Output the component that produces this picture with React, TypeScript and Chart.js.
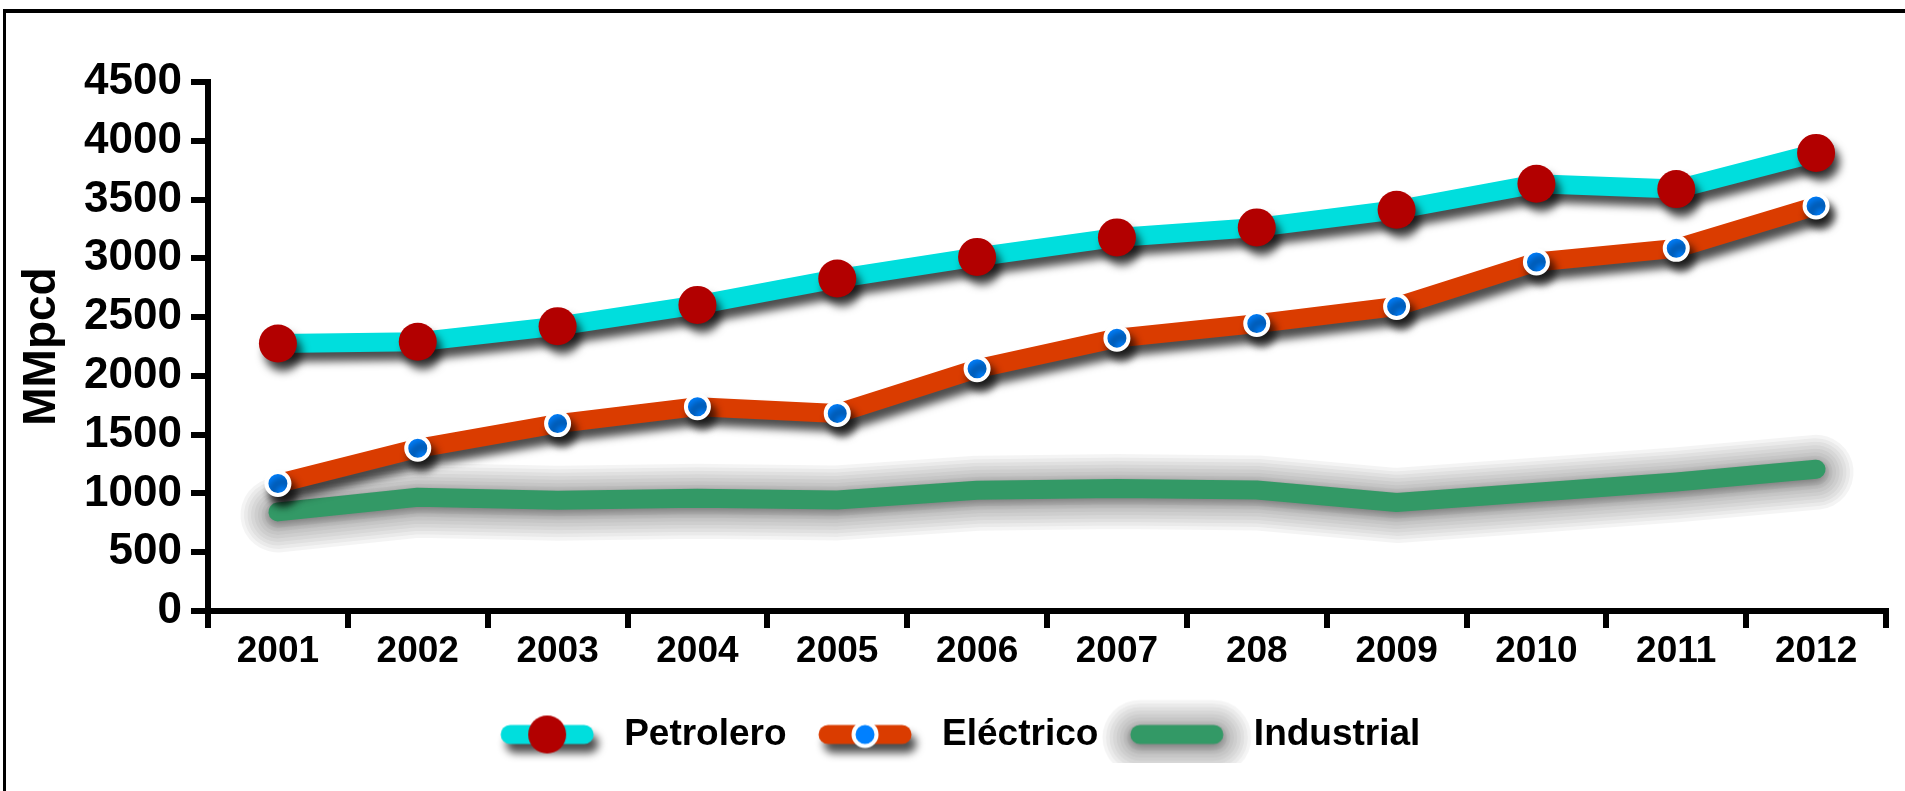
import React, { useEffect, useRef } from 'react';
import { Chart, registerables } from 'chart.js';

Chart.register(...registerables);

// ---- data ----
const categories = ['2001', '2002', '2003', '2004', '2005', '2006', '2007', '208', '2009', '2010', '2011', '2012'];
const petrolero = [2276, 2290, 2423, 2604, 2828, 3012, 3178, 3263, 3413, 3634, 3589, 3897];
const electrico = [1084, 1384, 1594, 1738, 1681, 2061, 2321, 2445, 2590, 2969, 3085, 3445];
const industrial = [843, 968, 942, 959, 945, 1027, 1042, 1030, 923, 1010, 1098, 1206];
const seriesNames = ['Petrolero', 'Eléctrico', 'Industrial'];
const yAxisTitle = 'MMpcd';
const yMin = 0;
const yMax = 4500;
const yStep = 500;

// ---- styles ----
const FONT = "'Liberation Sans', Arial, Helvetica, sans-serif";
const lineColors = ['#00DEDD', '#DA3C00', '#339966'];
const RED = '#B20000';
const BLUE = '#0080FF';
const SHADOWS = [
  { color: 'rgba(0,0,0,0.7)', blur: 8, x: 5, y: 9 },
  { color: 'rgba(0,0,0,0.7)', blur: 8, x: 5, y: 9 },
  { color: 'rgba(0,0,0,0.35)', blur: 8, x: 0, y: 3 },
];
const GLOW_LAYERS = 8;
const GLOW_STEP = 7;
const GLOW_ALPHA = 0.045;

function applyShadow(ctx: CanvasRenderingContext2D, i: number) {
  const s = SHADOWS[i];
  ctx.shadowColor = s.color;
  ctx.shadowBlur = s.blur;
  ctx.shadowOffsetX = s.x;
  ctx.shadowOffsetY = s.y;
}

// stepped soft halo around a line: stacked translucent strokes of decreasing width
function strokeGlow(ctx: CanvasRenderingContext2D, pts: { x: number; y: number }[]) {
  ctx.save();
  ctx.lineCap = 'round';
  ctx.lineJoin = 'round';
  ctx.strokeStyle = `rgba(0,0,0,${GLOW_ALPHA})`;
  for (let k = GLOW_LAYERS; k >= 1; k--) {
    ctx.lineWidth = 19 + k * GLOW_STEP;
    ctx.beginPath();
    pts.forEach((p, j) => (j === 0 ? ctx.moveTo(p.x, p.y + 3) : ctx.lineTo(p.x, p.y + 3)));
    ctx.stroke();
  }
  ctx.restore();
}

function makeMarker(i: number): HTMLCanvasElement {
  const c = document.createElement('canvas');
  c.width = 300;
  c.height = 240;
  const ctx = c.getContext('2d') as CanvasRenderingContext2D;
  const cx = 144;
  const cy = 120;
  if (i === 2) {
    strokeGlow(ctx, [
      { x: cx - 37, y: cy },
      { x: cx + 37, y: cy },
    ]);
  }
  ctx.save();
  applyShadow(ctx, i);
  ctx.lineCap = 'round';
  ctx.lineWidth = 19;
  ctx.strokeStyle = lineColors[i];
  ctx.beginPath();
  ctx.moveTo(cx - 37, cy);
  ctx.lineTo(cx + 37, cy);
  ctx.stroke();
  ctx.restore();
  if (i === 0) {
    ctx.fillStyle = RED;
    ctx.beginPath();
    ctx.arc(cx, cy, 19, 0, Math.PI * 2);
    ctx.fill();
  } else if (i === 1) {
    ctx.fillStyle = BLUE;
    ctx.strokeStyle = '#FFFFFF';
    ctx.lineWidth = 4;
    ctx.beginPath();
    ctx.arc(cx, cy, 11.5, 0, Math.PI * 2);
    ctx.fill();
    ctx.stroke();
  }
  return c;
}

const shadowPlugin = {
  id: 'lineShadows',
  beforeDatasetDraw(chart: any, args: any) {
    const ctx = chart.ctx as CanvasRenderingContext2D;
    if (args.index === 2) {
      const pts = args.meta.data.map((el: any) => ({ x: el.x, y: el.y }));
      strokeGlow(ctx, pts);
    }
    ctx.save();
    applyShadow(ctx, args.index);
  },
  afterDatasetDraw(chart: any) {
    chart.ctx.restore();
  },
};

export default function App() {
  const canvasRef = useRef<HTMLCanvasElement | null>(null);

  useEffect(() => {
    if (!canvasRef.current) return;
    const markers = [0, 1, 2].map((i) => makeMarker(i));
    const chart = new Chart(canvasRef.current, {
      type: 'line',
      data: {
        labels: categories,
        datasets: [
          {
            label: seriesNames[0],
            data: petrolero,
            borderColor: lineColors[0],
            borderWidth: 19,
            borderJoinStyle: 'round',
            borderCapStyle: 'round',
            pointRadius: 19,
            pointBackgroundColor: RED,
            pointBorderWidth: 0,
            pointHoverRadius: 19,
            tension: 0,
            clip: false,
          },
          {
            label: seriesNames[1],
            data: electrico,
            borderColor: lineColors[1],
            borderWidth: 19,
            borderJoinStyle: 'round',
            borderCapStyle: 'round',
            pointRadius: 11.5,
            pointBackgroundColor: BLUE,
            pointBorderColor: '#FFFFFF',
            pointBorderWidth: 4,
            pointHoverRadius: 11.5,
            tension: 0,
            clip: false,
          },
          {
            label: seriesNames[2],
            data: industrial,
            borderColor: lineColors[2],
            borderWidth: 19,
            borderJoinStyle: 'round',
            borderCapStyle: 'round',
            pointRadius: 0,
            pointHoverRadius: 0,
            tension: 0,
            clip: false,
          },
        ],
      },
      options: {
        animation: false,
        responsive: true,
        maintainAspectRatio: false,
        events: [],
        layout: { padding: { left: 26, right: 10, top: 82, bottom: 28 } },
        plugins: {
          tooltip: { enabled: false },
          legend: {
            display: true,
            position: 'bottom',
            labels: {
              usePointStyle: true,
              pointStyleWidth: 105,
              padding: 32,
              color: '#000000',
              font: { family: FONT, size: 37, weight: 'bold' },
              generateLabels: () =>
                seriesNames.map((name, i) => ({
                  text: name,
                  pointStyle: markers[i] as any,
                  fillStyle: lineColors[i],
                  strokeStyle: lineColors[i],
                  lineWidth: 0,
                  hidden: false,
                  datasetIndex: i,
                  fontColor: '#000000',
                })),
            },
          },
        },
        scales: {
          x: {
            type: 'category',
            offset: true,
            grid: {
              display: true,
              offset: true,
              drawOnChartArea: false,
              drawTicks: true,
              tickLength: 17,
              lineWidth: 6,
              color: '#000000',
            },
            border: { display: true, width: 6, color: '#000000' },
            ticks: {
              autoSkip: false,
              maxRotation: 0,
              minRotation: 0,
              padding: 2,
              color: '#000000',
              font: { family: FONT, size: 37, weight: 'bold' },
            },
            afterFit: (scale: any) => {
              scale.height = 73;
            },
          },
          y: {
            min: yMin,
            max: yMax,
            grid: {
              display: true,
              drawOnChartArea: false,
              drawTicks: true,
              tickLength: 17,
              lineWidth: 6,
              color: '#000000',
            },
            border: { display: true, width: 6, color: '#000000' },
            ticks: {
              stepSize: yStep,
              padding: 9,
              color: '#000000',
              font: { family: FONT, size: 44, weight: 'bold' },
              callback: (v: any) => String(v),
            },
            title: {
              display: true,
              text: yAxisTitle,
              color: '#000000',
              padding: 0,
              font: { family: FONT, size: 46, weight: 'bold', lineHeight: 0.72 },
            },
            afterFit: (scale: any) => {
              scale.width = 182;
            },
          },
        },
      },
      plugins: [shadowPlugin],
    } as any);
    return () => chart.destroy();
  }, []);

  return (
    <>
      <div
        style={{
          position: 'fixed',
          left: 3,
          top: 9,
          width: 1902,
          height: 782,
          borderTop: '4px solid #000',
          borderLeft: '3px solid #000',
          boxSizing: 'border-box',
        }}
      />
      <div style={{ position: 'fixed', left: 0, top: 0, width: 1905, height: 791 }}>
        <canvas ref={canvasRef} />
      </div>
    </>
  );
}
